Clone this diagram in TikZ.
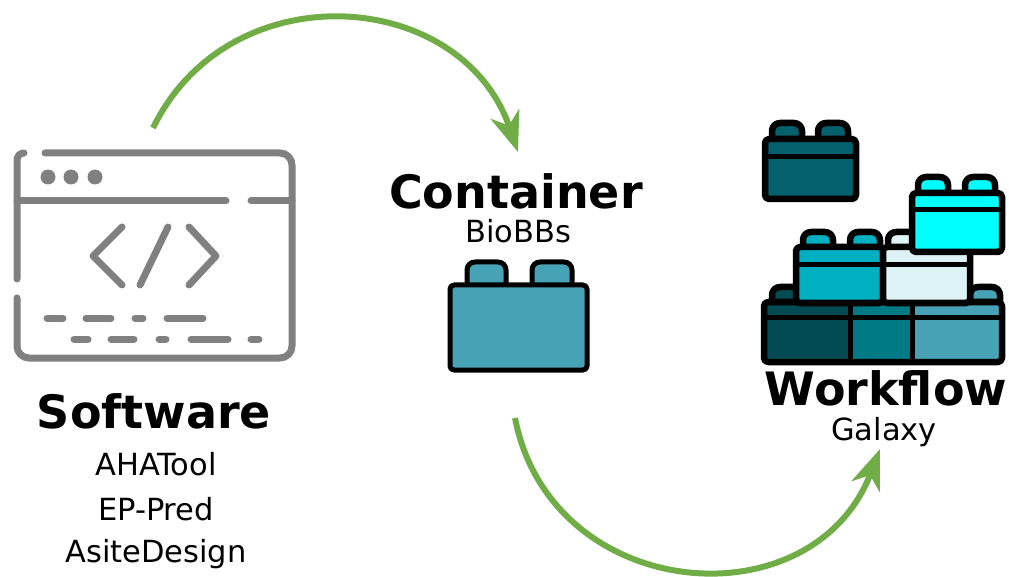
\documentclass[tikz,border=0pt]{standalone}
\usepackage{fontspec}
\setmainfont{DejaVu Sans}
\usetikzlibrary{arrows.meta}

\definecolor{icongray}{RGB}{128,128,128}
\definecolor{flowgreen}{RGB}{112,173,71}
\definecolor{blockteal}{RGB}{72,162,181}
\definecolor{blockdark}{RGB}{4,96,108}
\definecolor{blockcyan}{RGB}{0,255,255}
\definecolor{blockmid}{RGB}{0,176,192}
\definecolor{blocklight}{RGB}{221,243,246}
\definecolor{blocknavy}{RGB}{3,75,82}
\definecolor{blocksea}{RGB}{0,122,133}

\begin{document}
\begin{tikzpicture}[x=1pt,y=-1pt]
        \tikzstyle{title} = [font=\fontsize{46}{50}\selectfont\bfseries, anchor=base, inner sep=0pt]
        \tikzstyle{sub} = [font=\fontsize{30.5}{33}\selectfont, anchor=base, inner sep=0pt]
        \tikzstyle{code} = [draw=icongray, line width=7pt, line cap=round, line join=round]
        \tikzstyle{flow} = [draw=flowgreen, line width=6pt, -{Stealth[length=40pt,width=30pt,inset=12pt]}]
        \tikzstyle{brick} = [draw=black, line width=6.5pt, rounded corners=4pt, line join=round]
        \tikzstyle{stud} = [brick, rounded corners=8pt]

        \useasboundingbox (0,0) rectangle (1009,577);

        % browser window with code
        \draw[code, rounded corners=12pt] (45,153) -- (292,153) -- (292,358) -- (17,358) -- (17,298);
        \draw[code, rounded corners=7pt] (17,279) -- (17,153) -- (24,153);
        \draw[code] (17,201) -- (226,201);
        \draw[code] (251,201) -- (292,201);
        \foreach \x in {48,71,95}
            \fill[icongray] (\x,177) circle (7.5);
        \draw[code] (122,227) -- (93,256) -- (122,285);
        \draw[code] (168,227) -- (140,285);
        \draw[code] (189,227) -- (216,256) -- (189,285);
        \foreach \a/\b in {47/63, 86/111, 135/143, 167/203}
            \draw[code] (\a,318) -- (\b,318);
        \foreach \a/\b in {74/88, 111/134, 159/166, 191/228, 251/259}
            \draw[code] (\a,339) -- (\b,339);

        \node[title] (software) at (154,428) {Software};
        \node[sub] (ahatool) at (156,475) {AHATool};
        \node[sub] (eppred) at (156,520) {EP-Pred};
        \node[sub] (asite) at (156,562) {AsiteDesign};

        % single building block
        \filldraw[stud, line width=5pt, fill=blockteal] (467,262) rectangle (506,290);
        \filldraw[stud, line width=5pt, fill=blockteal] (532,262) rectangle (572,290);
        \filldraw[brick, line width=5pt, fill=blockteal] (450,285) rectangle (587,370);

        \node[title] (container) at (516,209) {Container};
        \node[sub] (biobbs) at (518,243) {BioBBs};

        % loose block
        \filldraw[stud, fill=blockdark] (772,123) rectangle (802,145);
        \filldraw[stud, fill=blockdark] (818,123) rectangle (848,145);
        \filldraw[brick, fill=blockdark] (765,139) rectangle (856,199);
        \draw[line width=5pt] (765,157) -- (856,157);

        % stacked blocks, bottom row first
        \filldraw[stud, fill=blocknavy] (772,287) rectangle (802,308);
        \filldraw[stud, fill=blockteal] (970,287) rectangle (1000,308);
        \fill[blocknavy] (764,302) rectangle (850,362);
        \fill[blocksea] (850,302) rectangle (912,362);
        \fill[blockteal] (912,302) rectangle (1002,362);
        \draw[brick] (764,302) rectangle (1002,362);
        \draw[line width=5pt] (764,317) -- (1002,317);
        \draw[line width=5pt] (850,302) -- (850,362);
        \draw[line width=5pt] (912,302) -- (912,362);

        % middle row
        \filldraw[stud, fill=blockmid] (803,232) rectangle (833,253);
        \filldraw[stud, fill=blockmid] (850,232) rectangle (880,253);
        \filldraw[stud, fill=blocklight] (888,232) rectangle (918,253);
        \filldraw[brick, fill=blockmid] (796,247) rectangle (883,303);
        \filldraw[brick, fill=blocklight] (883,247) rectangle (970,303);
        \draw[line width=5pt] (796,265) -- (970,265);

        % top block
        \filldraw[stud, fill=blockcyan] (918,177) rectangle (948,198);
        \filldraw[stud, fill=blockcyan] (965,177) rectangle (995,198);
        \filldraw[brick, fill=blockcyan] (912,193) rectangle (1002,252);
        \draw[line width=5pt] (912,210) -- (1002,210);

        \node[title] (workflow) at (886,405) {Workflow};
        \node[sub] (galaxy) at (884,440) {Galaxy};

        % arrows between the stages
        \coordinate (swout) at (153,128);
        \coordinate (ctin) at (518,152);
        \coordinate (ctout) at (515,418);
        \coordinate (wfin) at (880,449);

        \draw[flow] (swout) to[out=64, in=109, looseness=1.22] (ctin);
        \draw[flow] (ctout) to[out=-79, in=-111, looseness=1.32] (wfin);

\end{tikzpicture}
\end{document}
